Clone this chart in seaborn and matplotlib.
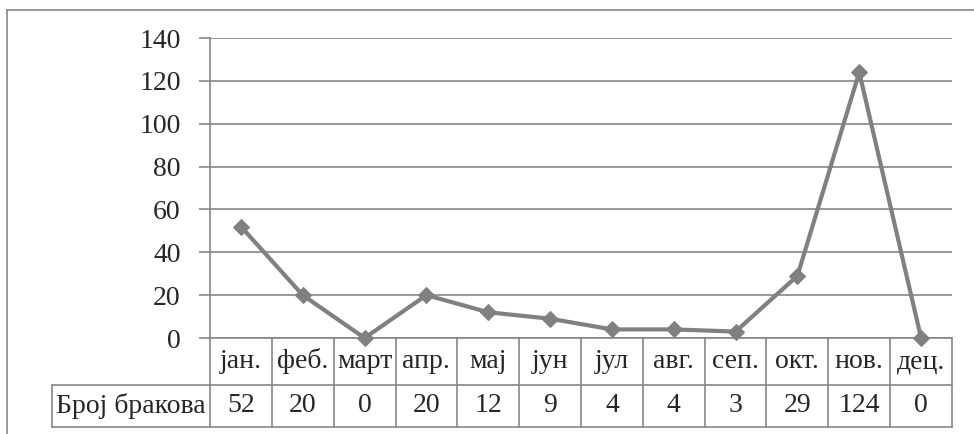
import matplotlib
matplotlib.use("Agg")
import matplotlib.pyplot as plt
import seaborn as sns
import pandas as pd
from matplotlib.lines import Line2D

# data
months = ["јан.", "феб.", "март", "апр.", "мај", "јун", "јул", "авг.", "сеп.", "окт.", "нов.", "дец."]
marriages = [52, 20, 0, 20, 12, 9, 4, 4, 3, 29, 124, 0]
row_label = "Број бракова"
y_ticks = [0, 20, 40, 60, 80, 100, 120, 140]

df = pd.DataFrame({"pos": range(len(months)), "value": marriages})

sns.set_style("white")
plt.rcParams["font.family"] = ["Liberation Serif", "DejaVu Serif"]
FAM = ["Liberation Serif", "DejaVu Serif"]

W, H = 974, 434
fig = plt.figure(figsize=(W / 100, H / 100), dpi=100)
ax = fig.add_axes([210 / W, (H - 338) / H, (952 - 210) / W, 300 / H])

grid_col = "#868686"
line_col = "#808080"
fs = 20

sns.lineplot(data=df, x="pos", y="value", ax=ax, color=line_col, linewidth=3,
             marker="D", markersize=8, markeredgecolor=line_col, clip_on=False, zorder=5)

ax.set_xlim(-0.5, len(months) - 0.5)
ax.set_ylim(0, 140)
ax.set_yticks(y_ticks)
ax.set_yticklabels([str(t) for t in y_ticks], fontsize=fs, family=FAM)
ax.yaxis.grid(True, color=grid_col, linewidth=1.2)
ax.set_xticks([])
ax.set_xlabel("")
ax.set_ylabel("")
ax.tick_params(axis="y", length=8, color=grid_col, width=1.2, pad=13, left=True)
for s in ["top", "right", "bottom"]:
    ax.spines[s].set_visible(False)
ax.spines["left"].set_color(grid_col)
ax.spines["left"].set_linewidth(1.2)

# data table under the axis
tr = ax.get_xaxis_transform()
r1 = -47 / 300
r2 = -89 / 300
kw = dict(color=grid_col, linewidth=1.2, transform=tr, clip_on=False)
n = len(months)
for y in [0, r1, r2]:
    ax.add_line(Line2D([-0.5, n - 0.5], [y, y], **kw))
for i in range(n + 1):
    ax.add_line(Line2D([i - 0.5, i - 0.5], [0, r2], **kw))
for i, (m, v) in enumerate(zip(months, marriages)):
    ax.text(i, r1 / 2, m, ha="center", va="center", fontsize=fs, family=FAM, transform=tr)
    ax.text(i, (r1 + r2) / 2, str(v), ha="center", va="center", fontsize=fs,
            family=FAM, transform=tr)

# row label cell
lx = (52 - 210) / (952 - 210)
ax.add_line(Line2D([lx, 0], [r1, r1], color=grid_col, linewidth=1.2,
                   transform=ax.transAxes, clip_on=False))
ax.add_line(Line2D([lx, 0], [r2, r2], color=grid_col, linewidth=1.2,
                   transform=ax.transAxes, clip_on=False))
ax.add_line(Line2D([lx, lx], [r1, r2], color=grid_col, linewidth=1.2,
                   transform=ax.transAxes, clip_on=False))
ax.text(lx + 0.006, (r1 + r2) / 2, row_label, ha="left", va="center", fontsize=fs,
        family=FAM, transform=ax.transAxes)

# outer chart frame (only top and left visible)
fig.add_artist(Line2D([7 / W, 7 / W], [0, 1 - 10 / H], color=grid_col, linewidth=1.2))
fig.add_artist(Line2D([7 / W, 1], [1 - 10 / H, 1 - 10 / H], color=grid_col, linewidth=1.2))

fig.savefig("out.png", dpi=100)
